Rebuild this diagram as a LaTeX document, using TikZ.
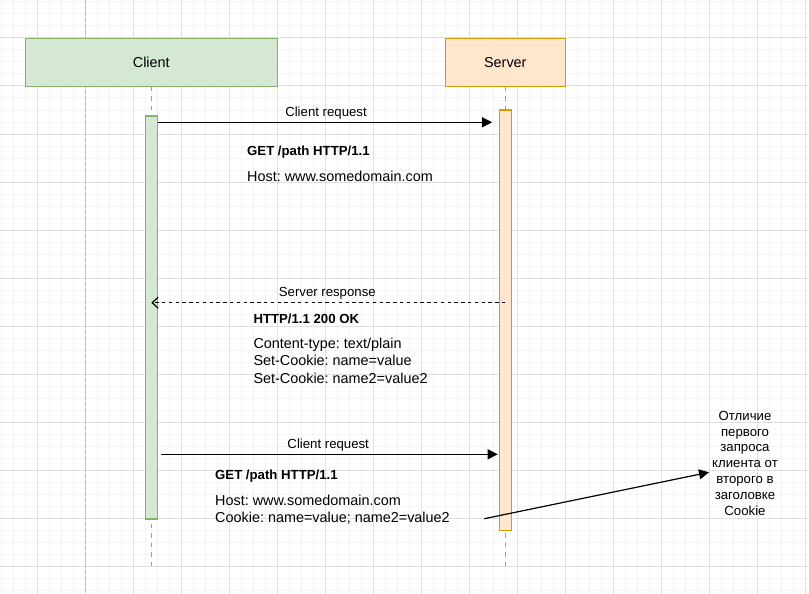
\documentclass[tikz,border=0pt]{standalone}
\usepackage{fontspec}
\setmainfont{Liberation Sans}
\frenchspacing
\usetikzlibrary{arrows.meta,calc}
\definecolor{gfill}{HTML}{D5E8D4}
\definecolor{gstroke}{HTML}{82B366}
\definecolor{ofill}{HTML}{FFE6CC}
\definecolor{ostroke}{HTML}{D79B00}
\definecolor{minorgrid}{HTML}{F4F4F4}
\definecolor{majorgrid}{HTML}{E0E0E0}
\definecolor{pageline}{HTML}{B8B8B8}
\tikzset{
  bigfont/.style={font=\fontsize{14.4}{17.3}\selectfont},
  smallfont/.style={font=\fontsize{13.2}{15.8}\selectfont},
  actor/.style={draw, line width=1.2pt, minimum width=252pt, minimum height=48pt, inner sep=0pt, bigfont},
  actbar/.style={draw, line width=1.2pt, minimum width=12pt, inner sep=0pt},
  lifeline/.style={line width=1.2pt, dash pattern=on 4.5pt off 5pt},
  msg/.style={line width=1.2pt, -{Triangle[length=10pt,width=10pt]}},
  reply/.style={line width=1.2pt, dash pattern=on 3.4pt off 3.4pt, -{Straight Barb[length=6pt,width=11pt]}},
  msglabel/.style={anchor=base, inner sep=0pt, smallfont},
  body/.style={anchor=base west, inner sep=0pt, bigfont},
  bodybold/.style={anchor=base west, inner sep=0pt, font=\fontsize{13.2}{15.8}\selectfont\bfseries},
  notetext/.style={anchor=base, inner sep=0pt, align=center, smallfont},
}
\begin{document}
\begin{tikzpicture}[x=1pt,y=-1pt]
\useasboundingbox (0,0) rectangle (809,594);
\fill[white] (0,0) rectangle (809,594);
% grid
\foreach \x in {1,13,...,805} \draw[minorgrid, line width=1pt] (\x,0) -- (\x,594);
\foreach \y in {2,14,...,590} \draw[minorgrid, line width=1pt] (0,\y) -- (809,\y);
\foreach \x in {37,85,...,805} \draw[majorgrid, line width=1pt] (\x,0) -- (\x,594);
\foreach \y in {38,86,...,566} \draw[majorgrid, line width=1pt] (0,\y) -- (809,\y);
% page break line
\draw[pageline, line width=1pt, dash pattern=on 4pt off 2pt] (85.3,0) -- (85.3,594);

% actors
\node[actor, fill=gfill, draw=gstroke] (client) at (151.3,62.3) {Client};
\node[actor, fill=ofill, draw=ostroke, minimum width=120pt] (server) at (505.3,62.3) {Server};

% lifelines
\coordinate (cend) at (151.3,566);
\coordinate (send) at (505.3,566);
\draw[lifeline, gstroke] (client.south) -- (cend);
\draw[lifeline, ostroke] (server.south) -- (send);

% activation bars
\node[actbar, fill=gfill, draw=gstroke, minimum height=403pt] (cbar) at (151.3,317.5) {};
\node[actbar, fill=ofill, draw=ostroke, minimum height=420.3pt] (sbar) at (505.3,320.2) {};

% message 1
\draw[msg, shorten >=6.6pt] (cbar.east |- 0,122.3) -- (sbar.west |- 0,122.3);
\node[msglabel] (m1) at (326,116) {Client request};
\node[bodybold] (g1) at (247,155) {GET /path HTTP/1.1};
\node[body] (h1) at (247,181) {Host: www.somedomain.com};

% reply
\draw[reply] (sbar.center |- 0,302.7) -- (cbar.center |- 0,302.7);
\node[msglabel] (m2) at (327.3,296) {Server response};
\node[bodybold] (r1) at (253.3,323.3) {HTTP/1.1 200 OK};
\node[body] (r2) at (253.3,348.3) {Content-type: text/plain};
\node[body] (r3) at (253.3,365.7) {Set-Cookie: name=value};
\node[body] (r4) at (253.3,383.3) {Set-Cookie: name2=value2};

% message 2
\draw[msg, shorten <=3pt, shorten >=1pt] (cbar.east |- 0,454.3) -- (sbar.west |- 0,454.3);
\node[msglabel] (m3) at (328.2,448.3) {Client request};
\node[bodybold] (g2) at (215,479.3) {GET /path HTTP/1.1};
\node[body] (h2) at (215,505.5) {Host: www.somedomain.com};
\node[body] (c2) at (215,522.8) {Cookie: name=value; name2=value2};

% note
\node[notetext] (note) at (745,515) {Отличие\\первого\\запроса\\клиента от\\второго в\\заголовке\\Cookie};
\coordinate (nstart) at (484.3,518.7);
\coordinate (ntip) at (709,472.3);
\draw[msg] (nstart) -- (ntip);
\end{tikzpicture}
\end{document}
